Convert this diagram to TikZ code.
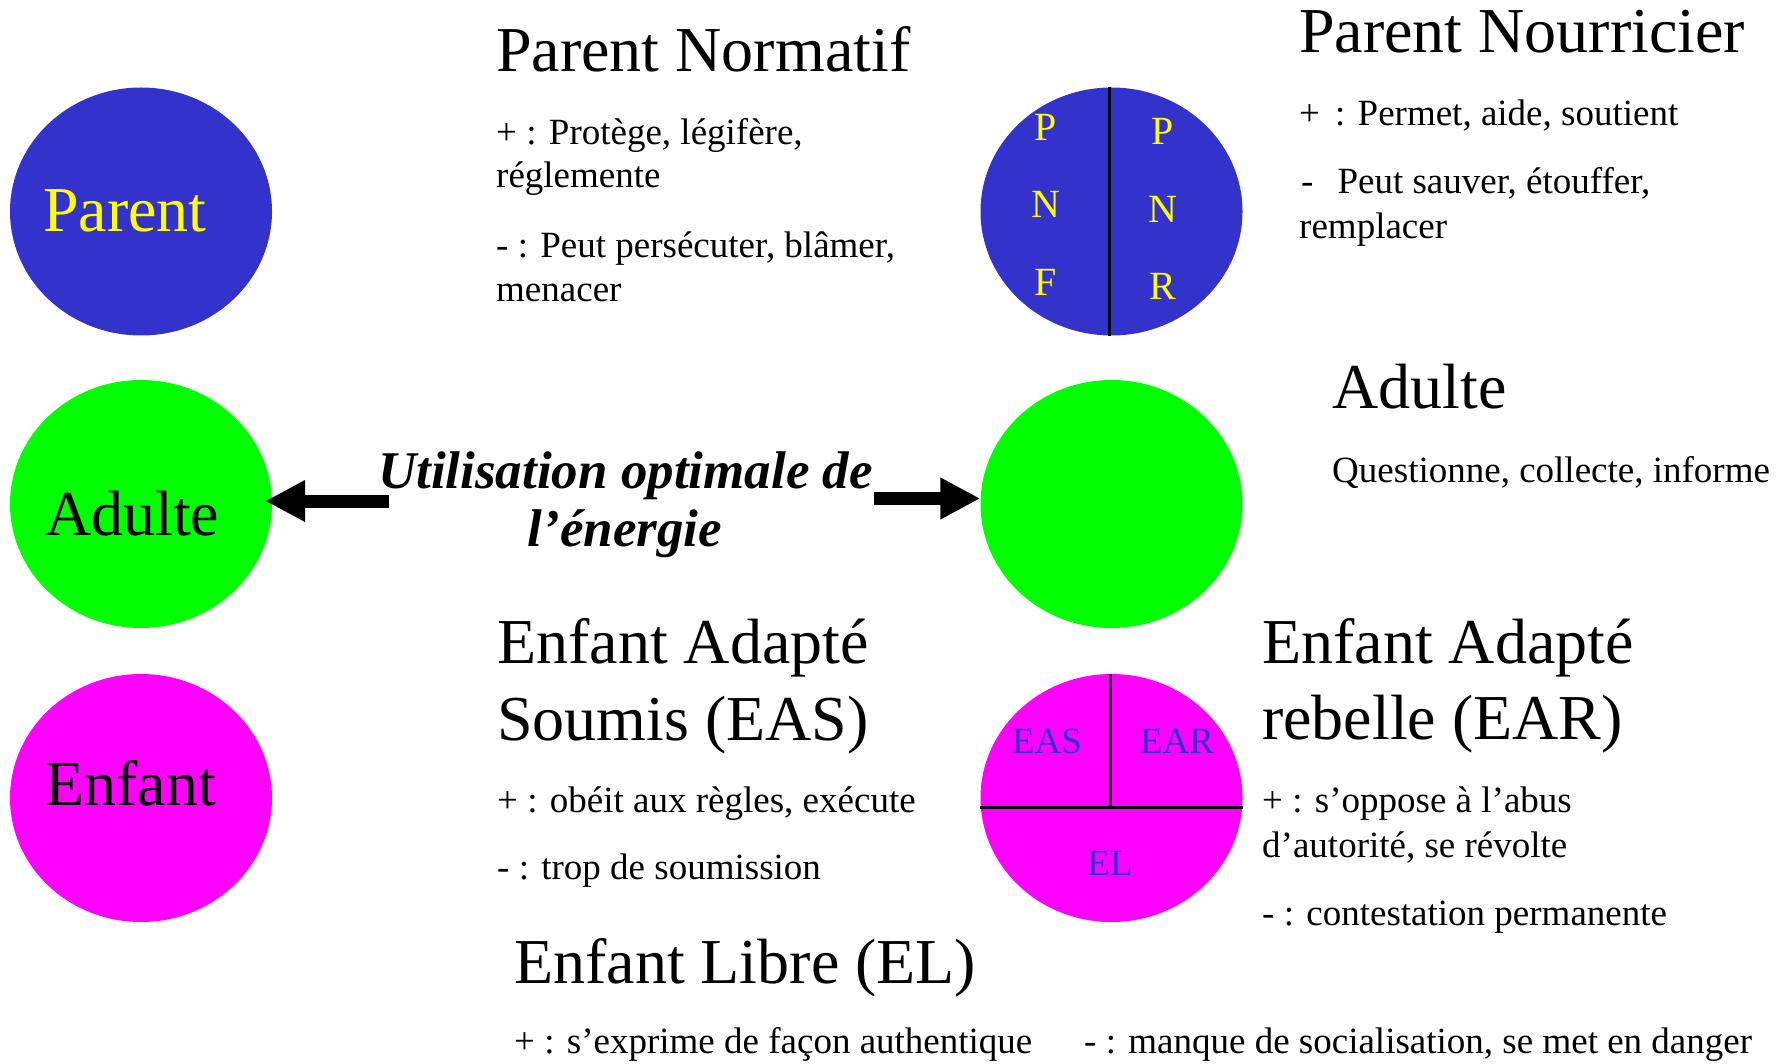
\documentclass[tikz,border=0pt]{standalone}
\usepackage{fontspec}
\setmainfont{Liberation Serif}
\usetikzlibrary{shapes.geometric,arrows.meta,calc}
\definecolor{pblue}{HTML}{3333CC}
\definecolor{pgreen}{HTML}{00FF00}
\definecolor{pmag}{HTML}{FF00FF}
\definecolor{pyel}{HTML}{FFFF00}
\begin{document}
\begin{tikzpicture}[x=1pt,y=-1pt,
  circ/.style={ellipse,minimum width=262pt,minimum height=248pt,inner sep=0pt,draw=none},
  body/.style={anchor=base west,inner sep=0pt,font=\fontsize{37}{44}\selectfont},
  head/.style={anchor=base west,inner sep=0pt,font=\fontsize{64}{72}\selectfont},
  letter/.style={anchor=base,inner sep=0pt,font=\fontsize{40}{44}\selectfont},
  midtext/.style={anchor=base,inner sep=0pt,font=\fontsize{53}{60}\selectfont\bfseries\itshape},
  sepline/.style={line width=3pt,black},
  bigarrow/.style={line width=13pt,-{Triangle[length=40pt,width=39pt]}}]
\useasboundingbox (0,0) rectangle (1779,1064);

% left circles
\node[circ,fill=pblue] (parL) at (141,211.5) {};
\node[circ,fill=pgreen] (adL) at (141,504) {};
\node[circ,fill=pmag] (enL) at (141,798) {};
\node[head,text=pyel] (parLt) at (43,232) {Parent};
\node[head] (adLt) at (45,535) {Adulte};
\node[head] (enLt) at (45,805) {Enfant};

% right circles
\node[circ,fill=pblue] (parR) at (1111.5,211.5) {};
\node[circ,fill=pgreen] (adR) at (1111.5,504) {};
\node[circ,fill=pmag] (enR) at (1111.5,798) {};
\draw[sepline] ([xshift=-2pt]parR.north) -- ([xshift=-2pt]parR.south);
\coordinate (enMid) at ($(enR.center)+(-1.5,9)$);
\draw[sepline] ([xshift=-1.5pt]enR.north) -- (enMid);
\draw[sepline] ($(enR.west)+(0,9)$) -- ($(enR.east)+(0,9)$);

\node[letter,text=pyel] (p1) at (1046,141) {P};
\node[letter,text=pyel] (n1) at (1046,218) {N};
\node[letter,text=pyel] (f1) at (1046,296) {F};
\node[letter,text=pyel] (p2) at (1163,145) {P};
\node[letter,text=pyel] (n2) at (1163,223) {N};
\node[letter,text=pyel] (r2) at (1163,300) {R};

\node[letter,text=pblue,font=\fontsize{37}{40}\selectfont] (eas) at (1047,753) {EAS};
\node[letter,text=pblue,font=\fontsize{37}{40}\selectfont] (ear) at (1177,753) {EAR};
\node[letter,text=pblue,font=\fontsize{37}{40}\selectfont] (el) at (1110,875) {EL};

% Parent Normatif
\node[head] (pnH) at (496,72) {Parent Normatif};
\node[body] (pn1) at (496,145) {+ : Protège, légifère,};
\node[body] (pn2) at (496,188) {réglemente};
\node[body] (pn3) at (496,258) {- : Peut persécuter, blâmer,};
\node[body] (pn4) at (496,302) {menacer};

% Parent Nourricier
\node[head] (pnrH) at (1299,53) {Parent Nourricier};
\node[body] (pnr1) at (1299,126) {+\hspace{15pt}: Permet, aide, soutient};
\node[body] (pnr2) at (1301,194) {-\hspace{24pt}Peut sauver, étouffer,};
\node[body] (pnr3) at (1299,239) {remplacer};

% Adulte
\node[head] (adH) at (1332,408) {Adulte};
\node[body] (ad1) at (1332,482) {Questionne, collecte, informe};

% Enfant Adapte Soumis
\node[head] (easH1) at (497,663) {Enfant Adapté};
\node[head] (easH2) at (497,740) {Soumis (EAS)};
\node[body] (eas1) at (497,812) {+ : obéit aux règles, exécute};
\node[body] (eas2) at (497,879) {- : trop de soumission};

% Enfant Adapte rebelle
\node[head] (earH1) at (1262,663) {Enfant Adapté};
\node[head] (earH2) at (1262,739) {rebelle (EAR)};
\node[body] (ear1) at (1262,812) {+ : s’oppose à l’abus};
\node[body] (ear2) at (1262,857) {d’autorité, se révolte};
\node[body] (ear3) at (1262,925) {- : contestation permanente};

% Enfant Libre
\node[head] (elH) at (514,983) {Enfant Libre (EL)};
\node[body] (el1) at (514,1053) {+ : s’exprime de façon authentique};
\node[body] (el2) at (1084,1053) {- : manque de socialisation, se met en danger};

% middle text and arrows
\node[midtext] (mid1) at (625.5,488) {Utilisation optimale de};
\node[midtext] (mid2) at (625,546) {l’énergie};
\coordinate (laS) at (389,501);
\coordinate (raS) at (874,498.5);
\draw[bigarrow] (laS) -- ([xshift=-7pt,yshift=3pt]adL.east);
\draw[bigarrow] (raS) -- ([yshift=5.5pt]adR.west);
\end{tikzpicture}
\end{document}
